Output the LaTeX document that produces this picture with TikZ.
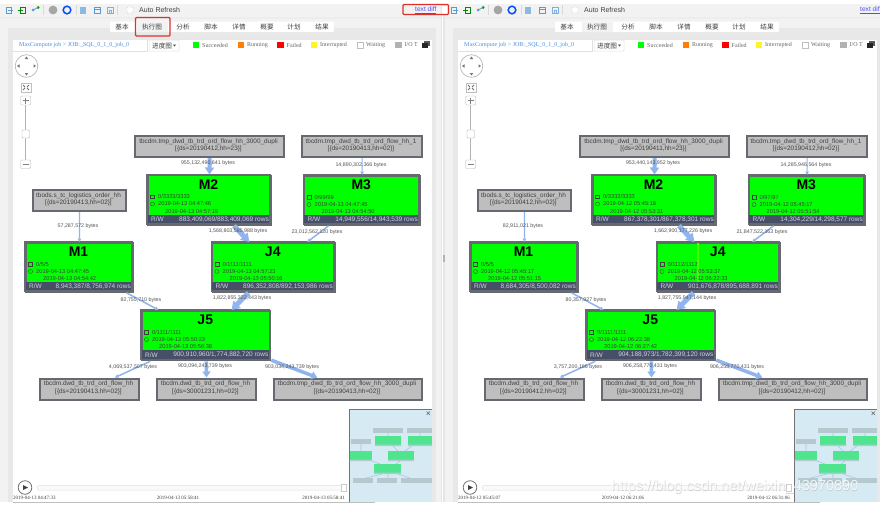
\documentclass[tikz,border=0pt]{standalone}
\usepackage{fontspec}
\setmainfont{Liberation Sans}
\newfontfamily\cjkf{Noto Sans CJK SC}
\newfontfamily\timesf{Liberation Serif}
\usetikzlibrary{arrows.meta}
\definecolor{edgeblue}{HTML}{8FB4EE}
\definecolor{paneg}{HTML}{F2F2F2}
\definecolor{boxline}{HTML}{666A70}
\definecolor{tblfill}{HTML}{BEBEBE}
\definecolor{strip}{HTML}{474F68}
\definecolor{stripink}{HTML}{CDD2DC}
\definecolor{ink}{HTML}{404040}
\definecolor{minibg}{HTML}{D6EAF3}
\definecolor{minitbl}{HTML}{B4C8CE}
\definecolor{minijob}{HTML}{4FE58F}
\definecolor{linkblue}{HTML}{4A8FE0}
\definecolor{iconblue}{HTML}{5B9BD5}
\definecolor{redmark}{HTML}{E0302A}
\tikzset{
  tablebox/.style={draw=boxline,line width=2.2pt,fill=tblfill,inner sep=0pt,anchor=north west},
  jobbox/.style={draw=boxline,line width=1.8pt,fill=green,inner sep=0pt,anchor=north west},
  tabletext/.style={text=ink,font=\fontsize{6.4}{7.6}\selectfont,align=center,inner sep=0pt},
  jobtitle/.style={text=black,font=\fontsize{14}{14}\selectfont\bfseries,inner sep=0pt},
  jobline/.style={text=ink,font=\fontsize{5.7}{6}\selectfont,anchor=west,inner sep=0pt},
  stripline/.style={text=stripink,font=\fontsize{6.5}{7}\selectfont,inner sep=0pt},
  edgelabel/.style={text=ink!90,font=\fontsize{5.3}{6}\selectfont,inner sep=0pt},
  tabbtn/.style={text=ink,font=\cjkf\fontsize{6.6}{7}\selectfont,inner sep=0pt},
  legend/.style={text=ink!80,font=\timesf\fontsize{6}{7}\selectfont,anchor=west,inner sep=0pt},
  timeline/.style={text=ink,font=\timesf\fontsize{5}{6}\selectfont,inner sep=0pt},
  flow/.style={draw=edgeblue,line width=#1},
}
% table node: name x y w h line1 line2
\newcommand{\tablenode}[7]{%
  \node[tablebox,minimum width=#4pt,minimum height=#5pt] (#1) at (#2,#3) {};
  \node[tabletext] (#1-text) at (#2+#4/2,#3+#5/2) {#6\\{}#7};
}
% job node: name x y w h rows
\newcommand{\jobnode}[6]{%
  \node[jobbox,minimum width=#4pt,minimum height=#5pt] (#1) at (#2,#3) {};
  \fill[strip] (#2,#3+#5-9.5) rectangle (#2+#4,#3+#5);
  \draw[boxline,line width=1.8pt] (#2,#3) rectangle (#2+#4,#3+#5);
  \node[stripline,anchor=west] (#1-rw) at (#2+4,#3+#5-4.7) {R/W};
  \node[stripline,anchor=east] (#1-rows) at (#2+#4-1,#3+#5-4.7) {#6};
}
% job text: name x y w title count t1 t2
\newcommand{\jobtext}[8]{%
  \node[jobtitle] (#1-title) at (#2+#4/2,#3+10) {#5};
  \draw[ink,line width=.4pt] (#2+3.5,#3+20.3) rectangle (#2+7.5,#3+23.7);
  \draw[ink,line width=.4pt] (#2+5.5,#3+29.5) circle (2);
  \node[jobline] (#1-count) at (#2+11,#3+22) {#6};
  \node[jobline] (#1-start) at (#2+11,#3+29.5) {#7};
  \node[jobline] (#1-end) at (#2+18,#3+37) {#8};
}
\newcommand{\edgeflow}[5]{%
  \draw[flow=#3pt,-{Triangle[length=#5pt,width=#4pt]}] (#1) -- (#2);
}
\newcommand{\edgetext}[4]{\node[edgelabel] (#1) at (#2,#3) {#4};}
\newcommand{\minibox}[5]{\fill[#5] (#1,#2) rectangle (#3,#4);}
% shell of a pane: crumb, time1, time2, time3
\newcommand{\shell}[4]{%
  \fill[paneg] (0,4) rectangle (441,502);
  \fill[black!9] (8,28) rectangle (436,502);
  \fill[white] (13,40) rectangle (432,502);
  \fill[black!7] (0,17) rectangle (441,18.5);
  % toolbar icons
  \draw[iconblue,line width=1pt] (6,7) rectangle (11.5,13);
  \fill[iconblue] (8,9.5) rectangle (13,10.7);
  \draw[green!55!black,line width=1pt] (20,7) rectangle (25,13);
  \fill[green!55!black] (18,9.5) rectangle (23,10.7);
  \fill[iconblue] (33,10) circle (1.5);
  \fill[green!55!black] (38,7.5) circle (1.5);
  \draw[iconblue,line width=.7pt] (33,10) -- (38,7.5);
  \fill[black!35] (53,10) circle (4.4);
  \draw[blue!70!cyan,line width=1.5pt] (67,10) circle (3.8);
  \fill[iconblue!70] (80,6.5) rectangle (86,13.5);
  \draw[iconblue,line width=.8pt] (94,7) rectangle (100,13) (94,9) -- (100,9);
  \draw[iconblue!80,line width=.8pt] (107.5,7) rectangle (113,13) (109,10) rectangle (111.5,13);
  \draw[black!15,line width=.6pt] (43,5) -- (43,15) (76,5) -- (76,15) (117,5) -- (117,15);
  \node[draw=black!15,fill=white,rounded corners=1pt,minimum size=6pt,inner sep=0pt] (autocheck) at (130,10) {};
  \node[anchor=west,text=ink,font=\fontsize{7}{8}\selectfont,inner sep=0pt] (autorefresh) at (139,10) {Auto Refresh};
  \node[anchor=west,text=blue!70!white,font=\fontsize{6.6}{8}\selectfont,inner sep=0pt] (textdiff) at (415,10) {\underline{text diff}};
  % tabs
  \fill[white,rounded corners=1pt] (110,21.5) rectangle (334,32);
  \fill[paneg] (137,21.5) rectangle (168,32);
  \node[tabbtn] (tab1) at (122,27) {基本};
  \node[tabbtn] (tab2) at (152,27) {执行图};
  \node[tabbtn] (tab3) at (183,27) {分析};
  \node[tabbtn] (tab4) at (211,27) {脚本};
  \node[tabbtn] (tab5) at (239,27) {详情};
  \node[tabbtn] (tab6) at (267,27) {概要};
  \node[tabbtn] (tab7) at (294,27) {计划};
  \node[tabbtn] (tab8) at (322,27) {结果};
  % breadcrumb
  \node[anchor=west,text=linkblue,font=\timesf\fontsize{6}{7}\selectfont,inner sep=0pt] (crumb) at (19,45.5) {#1};
  \draw[black!12,line width=.5pt] (147,40) -- (147,51) -- (13,51);
  \draw[black!12,line width=.5pt,fill=white,rounded corners=1pt] (149,40) rectangle (179,51);
  \node[tabbtn,anchor=west] (progress) at (152,45.5) {进度图};
  \fill[ink] (173,44.5) -- (176,44.5) -- (174.5,46.5) -- cycle;
  % legend
  \fill[green] (193,42) rectangle (199,48);
  \node[legend] (lg1) at (202,45) {Succeeded};
  \fill[orange] (238,42) rectangle (244,48);
  \node[legend] (lg2) at (247,45) {Running};
  \fill[red] (277,42) rectangle (284,48);
  \node[legend] (lg3) at (286.5,45) {Failed};
  \fill[yellow!85!white] (311,42) rectangle (317,48);
  \node[legend] (lg4) at (320,45) {Interrupted};
  \draw[black!25,fill=white,line width=.4pt] (357.5,42) rectangle (363,48);
  \node[legend] (lg5) at (366,45) {Waiting};
  \fill[black!30] (395,42) rectangle (402,48);
  \node[legend] (lg6) at (404.5,45) {I/O T};
  \fill[black!65] (424,41) rectangle (430,46);
  \fill[black!85] (422,43) rectangle (428,48);
  % navigator
  \draw[black!30,line width=.6pt,fill=white] (26.5,66) circle (11.3);
  \fill[black!55] (26.5,56.5) -- (24.8,59) -- (28.2,59) -- cycle;
  \fill[black!55] (26.5,75.5) -- (24.8,73) -- (28.2,73) -- cycle;
  \fill[black!55] (17,66) -- (19.5,64.3) -- (19.5,67.7) -- cycle;
  \fill[black!55] (36,66) -- (33.5,64.3) -- (33.5,67.7) -- cycle;
  \draw[black!25,line width=.4pt] (21,83) rectangle (31,92);
  \draw[black!55,line width=.8pt] (23,85) -- (25,87) (29,85) -- (27,87) (23,90) -- (25,88) (29,90) -- (27,88);
  \draw[black!30,line width=.8pt] (25.7,105) -- (25.7,160);
  \draw[black!30,line width=.4pt,fill=white,rounded corners=1pt] (20.7,96) rectangle (30.7,105);
  \draw[black!50,line width=.5pt] (22.5,100.5) -- (29,100.5) (25.7,97.5) -- (25.7,103.5);
  \draw[black!30,line width=.4pt,fill=white,rounded corners=1pt] (22,130) rectangle (29.5,138);
  \draw[black!30,line width=.4pt,fill=white,rounded corners=1pt] (20.7,160) rectangle (30.7,168.5);
  \draw[black!50,line width=.5pt] (22.5,164) -- (29,164);
  % timeline
  \draw[black!55,line width=.8pt,fill=white] (25,487.5) circle (6.8);
  \fill[black!75] (23,485) -- (28,487.5) -- (23,490) -- cycle;
  \draw[black!12,line width=.5pt,fill=black!2,rounded corners=1.5pt] (37,485.5) rectangle (346,490);
  \draw[black!20,line width=.4pt,fill=white] (341.5,484.5) rectangle (346.5,491);
  \node[timeline,anchor=west] (tl1) at (13,497.5) {#2};
  \node[timeline] (tl2) at (178,497.5) {#3};
  \node[timeline,anchor=east] (tl3) at (345,497.5) {#4};
  \draw[black!25,line width=.5pt] (13,502.2) -- (375,502.2);
}
\newcommand{\minimap}{%
  \fill[minibg] (349,409) rectangle (432,502);
  \draw[black!55,line width=.7pt] (349,502) -- (349,409) -- (432,409);
  \draw[black!60,line width=.5pt] (426.5,411.5) -- (430,415) (430,411.5) -- (426.5,415);
  \draw[edgeblue!70!minibg,line width=.6pt] (388,433) -- (388,436) (420,433) -- (420,436) (361,444) -- (361,451)
     (393,446) -- (398,451) (412,446) -- (405,451) (372,461) -- (380,464) (400,461) -- (396,464)
     (382,474) -- (366,478) (388,474) -- (388,478) (398,474) -- (410,478);
  \minibox{373}{428}{403}{433}{minitbl}
  \minibox{407}{428}{432}{433}{minitbl}
  \minibox{351}{439}{371}{444}{minitbl}
  \minibox{353}{478}{373}{483}{minitbl}
  \minibox{377}{478}{397}{483}{minitbl}
  \minibox{401}{478}{432}{483}{minitbl}
  \minibox{375}{436}{401}{446}{minijob}
  \minibox{408}{436}{432}{446}{minijob}
  \minibox{349.5}{451}{372}{461}{minijob}
  \minibox{388}{451}{414}{461}{minijob}
  \minibox{374}{464}{401}{474}{minijob}
  \fill[minitbl] (375,444.5) rectangle (401,446) (408,444.5) rectangle (432,446) (349.5,459.5) rectangle (372,461) (388,459.5) rectangle (414,461) (374,472.5) rectangle (401,474);
}
\begin{document}
\begin{tikzpicture}[x=1pt,y=-1pt]
\useasboundingbox (0,0) rectangle (880,506);
\fill[white] (0,0) rectangle (880,506);
% ===== left pane =====
\begin{scope}[name prefix=l-]
\shell{MaxCompute job > JOB:\_SQL\_0\_1\_0\_job\_0}{2019-04-13 04:47:33}{2019-04-13 05:58:41}{2019-04-13 05:58:41}
\tablenode{t1}{134}{134.5}{149}{21.5}{tbcdm.tmp\_dwd\_tb\_trd\_ord\_flow\_hh\_3000\_dupli}{[\{ds=20190412,hh=23\}]}
\tablenode{t2}{301}{134.5}{120}{21.5}{tbcdm.tmp\_dwd\_tb\_trd\_ord\_flow\_hh\_1}{[\{ds=20190413,hh=02\}]}
\tablenode{src}{32}{188.5}{93}{21.5}{tbods.s\_tc\_logistics\_order\_hh}{[\{ds=20190413,hh=02\}]}
\jobnode{m2}{147}{174.5}{123}{49.5}{883,409,069/883,409,069 rows}
\jobnode{m3}{303.5}{175}{115.5}{49}{14,949,556/14,943,539 rows}
\jobnode{m1}{25}{242}{107}{49}{8,943,387/8,756,974 rows}
\jobnode{j4}{211.5}{242}{122.5}{49}{896,352,808/892,153,986 rows}
\jobnode{j5}{141}{310}{128.5}{49.5}{900,910,960/1,774,882,720 rows}
\tablenode{o1}{39}{377.5}{99}{21}{tbcdm.dwd\_tb\_trd\_ord\_flow\_hh}{[\{ds=20190413,hh=02\}]}
\tablenode{o2}{156}{377.5}{99}{21}{tbcdm.dwd\_tb\_trd\_ord\_flow\_hh}{[\{ds=30001231,hh=02\}]}
\tablenode{o3}{273}{377.5}{148}{21}{tbcdm.tmp\_dwd\_tb\_trd\_ord\_flow\_hh\_3000\_dupli}{[\{ds=20190413,hh=02\}]}
\edgeflow{t1}{m2}{4}{9}{7}
\edgeflow{t2}{m3}{1.2}{3.5}{3.5}
\edgeflow{src}{m1}{1.2}{3.5}{3.5}
\edgeflow{m2}{j4}{5}{10}{8}
\edgeflow{m3}{j4}{1.5}{3.5}{3.5}
\edgeflow{m1}{j5}{1.5}{3.5}{3.5}
\edgeflow{j4}{j5}{5}{10}{8}
\edgeflow{j5}{o1}{1.5}{3.5}{3.5}
\edgeflow{j5}{o2}{3.5}{8}{6}
\edgeflow{j5}{o3}{3.5}{8}{6}
\jobtext{m2}{147}{174.5}{123}{M2}{0/3333/3333}{2019-04-13 04:47:46}{2019-04-13 04:57:19}
\jobtext{m3}{303.5}{175}{115.5}{M3}{0/99/99}{2019-04-13 04:47:45}{2019-04-13 04:54:50}
\jobtext{m1}{25}{242}{107}{M1}{0/5/5}{2019-04-13 04:47:45}{2019-04-13 04:54:42}
\jobtext{j4}{211.5}{242}{122.5}{J4}{0/1111/1111}{2019-04-13 04:57:23}{2019-04-13 05:50:16}
\jobtext{j5}{141}{310}{128.5}{J5}{0/1111/1111}{2019-04-13 05:50:23}{2019-04-13 05:56:38}
\edgetext{e1}{208}{163}{955,132,490,641 bytes}
\edgetext{e2}{361}{165}{14,890,302,366 bytes}
\edgetext{e3}{78}{226}{57,287,572 bytes}
\edgetext{e4}{238}{231}{1,568,803,585,988 bytes}
\edgetext{e5}{317}{232}{23,012,562,120 bytes}
\edgetext{e6}{141}{300}{82,755,710 bytes}
\edgetext{e7}{242}{298}{1,822,855,322,443 bytes}
\edgetext{e8}{133}{367.5}{4,069,537,507 bytes}
\edgetext{e9}{205}{366.5}{903,094,243,739 bytes}
\edgetext{e10}{292}{367.5}{903,034,243,739 bytes}
\minimap
\end{scope}
% ===== divider =====
\fill[black!10] (441,4) rectangle (445,502);
\draw[white,line width=.6pt] (442,4) -- (442,502);
\fill[black!30] (443,255) rectangle (444.5,262);
% ===== right pane =====
\begin{scope}[xshift=445pt,name prefix=r-]
\shell{MaxCompute job > JOB:\_SQL\_0\_1\_0\_job\_0}{2019-04-12 05:45:07}{2019-04-12 06:21:06}{2019-04-12 06:31:06}
\tablenode{t1}{134}{134.5}{149}{21.5}{tbcdm.tmp\_dwd\_tb\_trd\_ord\_flow\_hh\_3000\_dupli}{[\{ds=20190411,hh=23\}]}
\tablenode{t2}{301}{134.5}{120}{21.5}{tbcdm.tmp\_dwd\_tb\_trd\_ord\_flow\_hh\_1}{[\{ds=20190412,hh=02\}]}
\tablenode{src}{32}{188.5}{93}{21.5}{tbods.s\_tc\_logistics\_order\_hh}{[\{ds=20190412,hh=02\}]}
\jobnode{m2}{147}{174.5}{123}{49.5}{867,378,301/867,378,301 rows}
\jobnode{m3}{303.5}{175}{115.5}{49}{14,304,229/14,298,577 rows}
\jobnode{m1}{25}{242}{107}{49}{8,684,305/8,500,082 rows}
\jobnode{j4}{211.5}{242}{122.5}{49}{901,676,878/895,688,891 rows}
\fill[green!70!yellow] (252,243) rectangle (253.5,282);
\jobnode{j5}{141}{310}{128.5}{49.5}{904,188,973/1,782,399,120 rows}
\tablenode{o1}{39}{377.5}{99}{21}{tbcdm.dwd\_tb\_trd\_ord\_flow\_hh}{[\{ds=20190412,hh=02\}]}
\tablenode{o2}{156}{377.5}{99}{21}{tbcdm.dwd\_tb\_trd\_ord\_flow\_hh}{[\{ds=30001231,hh=02\}]}
\tablenode{o3}{273}{377.5}{148}{21}{tbcdm.tmp\_dwd\_tb\_trd\_ord\_flow\_hh\_3000\_dupli}{[\{ds=20190412,hh=02\}]}
\edgeflow{t1}{m2}{4}{9}{7}
\edgeflow{t2}{m3}{1.2}{3.5}{3.5}
\edgeflow{src}{m1}{1.2}{3.5}{3.5}
\edgeflow{m2}{j4}{5}{10}{8}
\edgeflow{m3}{j4}{1.5}{3.5}{3.5}
\edgeflow{m1}{j5}{1.5}{3.5}{3.5}
\edgeflow{j4}{j5}{5}{10}{8}
\edgeflow{j5}{o1}{1.5}{3.5}{3.5}
\edgeflow{j5}{o2}{3.5}{8}{6}
\edgeflow{j5}{o3}{3.5}{8}{6}
\jobtext{m2}{147}{174.5}{123}{M2}{0/3333/3333}{2019-04-12 05:45:18}{2019-04-12 05:53:31}
\jobtext{m3}{303.5}{175}{115.5}{M3}{0/97/97}{2019-04-12 05:45:17}{2019-04-12 05:51:54}
\jobtext{m1}{25}{242}{107}{M1}{0/5/5}{2019-04-12 05:45:17}{2019-04-12 05:51:15}
\jobtext{j4}{211.5}{242}{122.5}{J4}{0/1112/1112}{2019-04-12 05:53:37}{2019-04-12 06:22:33}
\jobtext{j5}{141}{310}{128.5}{J5}{0/1111/1111}{2019-04-12 06:22:38}{2019-04-12 06:27:42}
\edgetext{e1}{208}{163}{953,440,143,952 bytes}
\edgetext{e2}{361}{165}{14,285,946,564 bytes}
\edgetext{e3}{78}{226}{82,911,021 bytes}
\edgetext{e4}{238}{231}{1,662,900,177,226 bytes}
\edgetext{e5}{317}{232}{21,847,522,163 bytes}
\edgetext{e6}{141}{300}{80,357,927 bytes}
\edgetext{e7}{242}{298}{1,827,755,947,144 bytes}
\edgetext{e8}{133}{367.5}{3,757,200,186 bytes}
\edgetext{e9}{205}{366.5}{906,258,770,431 bytes}
\edgetext{e10}{292}{367.5}{906,258,770,431 bytes}
\minimap
\end{scope}
% ===== red marks, watermark =====
\draw[redmark,line width=1.3pt,rounded corners=1pt] (135.5,17.5) rectangle (170,36);
\fill[white] (441.5,6) rectangle (447,14);
\draw[redmark,line width=1.3pt,rounded corners=1pt] (403,4.5) rectangle (448.5,14.5);
\node[text=black!25,opacity=.7,font=\fontsize{14.5}{15}\selectfont,inner sep=0pt] (watermarkshade) at (735.4,487.4) {https://blog.csdn.net/weixin\_43970890};
\node[text=white,opacity=.8,font=\fontsize{14.5}{15}\selectfont,inner sep=0pt] (watermark) at (735,487) {https://blog.csdn.net/weixin\_43970890};
\end{tikzpicture}
\end{document}
